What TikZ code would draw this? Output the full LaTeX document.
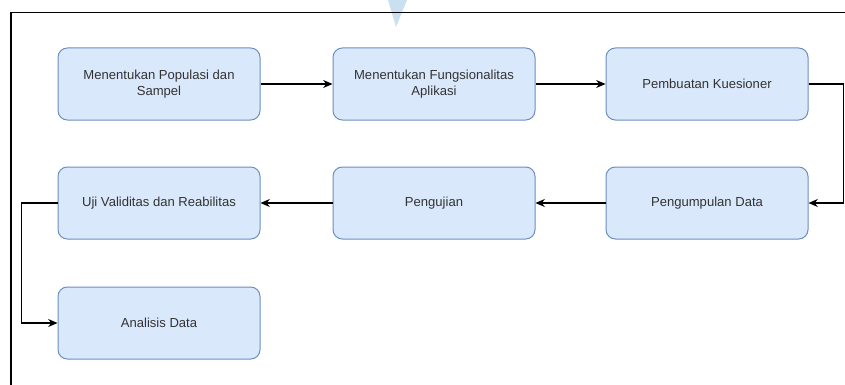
\documentclass[tikz,border=0pt]{standalone}
\usepackage{fontspec}
\setmainfont{Liberation Sans}
\usetikzlibrary{arrows.meta}
\definecolor{boxfill}{HTML}{DAE8FC}
\definecolor{boxline}{HTML}{6C8EBF}
\definecolor{txt}{HTML}{333333}
\definecolor{tri}{HTML}{C8E0F0}
\begin{document}
\begin{tikzpicture}[x=0.75pt,y=-0.75pt,
  stepbox/.style={draw=boxline,fill=boxfill,rounded corners=7pt,line width=0.75pt,
    minimum width=151.5pt,minimum height=54pt,align=center,text=txt,
    font=\fontsize{9.8}{12}\selectfont,inner sep=0pt},
  conn/.style={line width=0.8pt,-{Stealth[length=7pt,width=6pt]}}]
\useasboundingbox (0,0) rectangle (845,385);
\fill[white] (0,0) rectangle (845,385);
\fill[tri] (388,0) -- (407,0) -- (396,27) -- cycle;
\coordinate (fa) at (11,385);
\coordinate (fb) at (11,12.5);
\coordinate (fc) at (845,12.5);
\draw[line width=1.1pt] (fa) -- (fb) -- (fc);
\node[stepbox] (a) at (159,84) {Menentukan Populasi dan\\Sampel};
\node[stepbox] (b) at (434,84) {Menentukan Fungsionalitas\\Aplikasi};
\node[stepbox] (c) at (707,84) {Pembuatan Kuesioner};
\node[stepbox] (d) at (707,203) {Pengumpulan Data};
\node[stepbox] (e) at (434,203) {Pengujian};
\node[stepbox] (f) at (159,203) {Uji Validitas dan Reabilitas};
\node[stepbox] (g) at (159,323) {Analisis Data};
\draw[conn] (a) -- (b);
\draw[conn] (b) -- (c);
\draw[conn] (c.east) -- ++(35,0) |- (d.east);
\draw[conn] (d) -- (e);
\draw[conn] (e) -- (f);
\draw[conn] (f.west) -- ++(-36,0) |- (g.west);
\end{tikzpicture}
\end{document}
